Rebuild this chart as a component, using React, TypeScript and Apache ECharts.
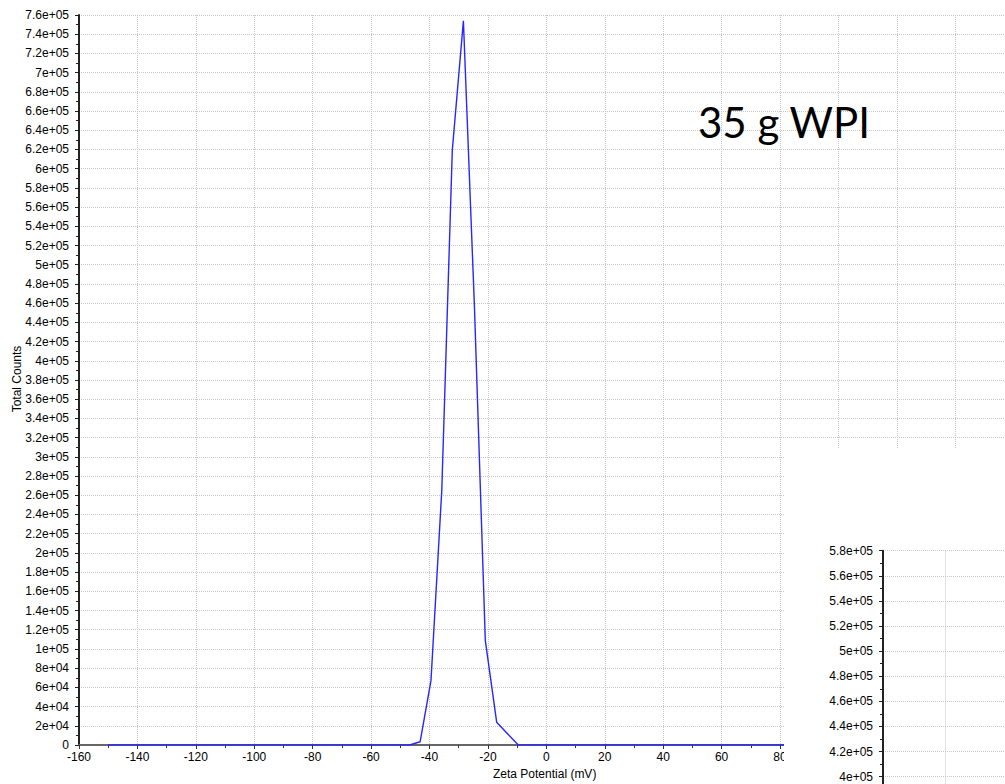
import React, { useEffect, useRef } from "react";
import * as echarts from "echarts";

// Zeta potential (mV) and total counts
const zeta = [-150, -46.8, -43.2, -39.5, -35.8, -32.2, -28.4, -24.6, -20.9, -17.0, -13.3, -9.6, 160];
const counts = [0, 0, 3400, 67000, 265000, 619000, 754000, 455000, 109000, 23600, 11800, 0, 0];

const xTitle = "Zeta Potential (mV)";
const yTitle = "Total Counts";
const note = "35 g WPI";

const fmt = (v: number) =>
  v === 0 ? "0" : v.toExponential().replace(/e([+-])(\d)$/, (_m, s, d) => "e" + s + "0" + d);

const axisFont = { fontFamily: "Liberation Sans", fontSize: 12, color: "#000" };
const gridLine = { show: true, lineStyle: { color: "#c8c8c8", type: [1, 1] as any, width: 1 } };

export default function App() {
  const ref = useRef<HTMLDivElement>(null);
  useEffect(() => {
    document.body.style.margin = "0";
    const chart = echarts.init(ref.current!, undefined, { renderer: "svg" });
    chart.setOption({
      animation: false,
      backgroundColor: "#fff",
      grid: [
        { left: 79, top: 15, width: 934.7, height: 730, outerBoundsMode: "none", containLabel: false },
        { left: 883, top: 550.7, width: 125.4, height: 251, outerBoundsMode: "none", containLabel: false },
      ],
      xAxis: [
        {
          type: "value",
          gridIndex: 0,
          min: -160,
          max: 160,
          interval: 20,
          axisLine: { show: true, onZero: false, lineStyle: { color: "#666", width: 2 } },
          axisTick: { show: true, length: 4, lineStyle: { color: "#333" } },
          minorTick: { show: true, splitNumber: 2, length: 3, lineStyle: { color: "#333" } },
          axisLabel: { ...axisFont, margin: 6, formatter: (v: number) => (v > 80 ? "" : String(v)) },
          splitLine: gridLine,
        },
        {
          type: "value",
          gridIndex: 1,
          min: 0,
          max: 100,
          interval: 50,
          axisLine: { show: false },
          axisTick: { show: false },
          axisLabel: { show: false },
          splitLine: gridLine,
          z: 60,
        },
      ],
      yAxis: [
        {
          type: "value",
          gridIndex: 0,
          min: 0,
          max: 760000,
          interval: 20000,
          axisLine: { show: true, onZero: false, lineStyle: { color: "#222", width: 2 } },
          axisTick: { show: true, length: 4, lineStyle: { color: "#222" } },
          minorTick: { show: true, splitNumber: 2, length: 3, lineStyle: { color: "#222" } },
          axisLabel: { ...axisFont, margin: 10, formatter: fmt },
          splitLine: gridLine,
        },
        {
          type: "value",
          gridIndex: 1,
          min: 380000,
          max: 580000,
          interval: 20000,
          axisLine: { show: true, onZero: false, lineStyle: { color: "#222", width: 2 } },
          axisTick: { show: true, length: 4, lineStyle: { color: "#222" } },
          minorTick: { show: true, splitNumber: 2, length: 3, lineStyle: { color: "#222" } },
          axisLabel: { ...axisFont, margin: 10, formatter: (v: number) => (v < 400000 ? "" : fmt(v)) },
          splitLine: gridLine,
          z: 60,
        },
      ],
      series: [
        {
          type: "line",
          xAxisIndex: 0,
          yAxisIndex: 0,
          data: zeta.map((z, i) => [z, counts[i]]),
          showSymbol: false,
          symbol: "none",
          lineStyle: { color: "#2626ff", width: 1.4 },
          z: 3,
        },
      ],
      graphic: [
        {
          type: "rect",
          z: 50,
          shape: { x: 784, y: 448, width: 221, height: 336 },
          style: { fill: "#fff" },
        },
        {
          type: "text",
          z: 70,
          x: 698,
          y: 122,
          style: {
            text: note,
            fontFamily: "Lato",
            fontSize: 42,
            fill: "#000",
            align: "left",
            verticalAlign: "middle",
          },
        },
        {
          type: "text",
          z: 70,
          x: 17,
          y: 379,
          rotation: Math.PI / 2,
          style: {
            text: yTitle,
            fontFamily: "Liberation Sans",
            fontSize: 12,
            fill: "#000",
            align: "center",
            verticalAlign: "middle",
          },
        },
        {
          type: "text",
          z: 70,
          x: 493,
          y: 774,
          style: {
            text: xTitle,
            fontFamily: "Liberation Sans",
            fontSize: 12,
            fill: "#000",
            align: "left",
            verticalAlign: "middle",
          },
        },
      ],
    });
    return () => chart.dispose();
  }, []);
  return <div ref={ref} style={{ width: 1005, height: 784 }} />;
}
